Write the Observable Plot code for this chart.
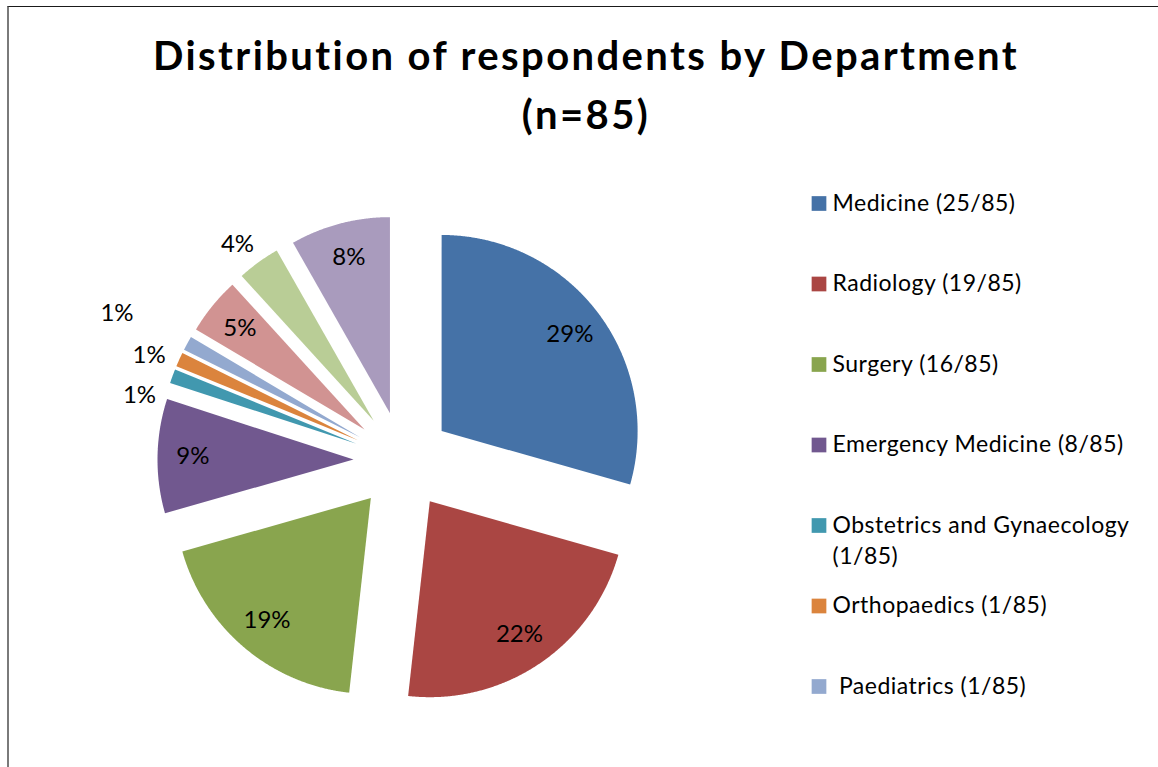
<!DOCTYPE html>
<html>
<head>
<meta charset="utf-8">
<script src="https://cdn.jsdelivr.net/npm/d3@7"></script>
<script src="https://cdn.jsdelivr.net/npm/@observablehq/plot@0.6"></script>
<style>
  body { margin: 0; background: #fff; }
  #wrap { position: relative; width: 1158px; height: 767px; overflow: hidden; background: #fff; }
  #frame { position: absolute; left: 7px; top: 6px; width: 1200px; height: 800px;
           border-left: 2px solid #7a7a7a; border-top: 1.5px solid #1a1a1a; }
  #title { position: absolute; left: 13px; top: 26px; width: 1146px; text-align: center;
           font-family: Lato, "Open Sans", sans-serif; font-weight: bold; font-size: 40px;
           letter-spacing: 2.4px; line-height: 59px; color: #000; }
  #chart { position: absolute; left: 0; top: 0; }
</style>
</head>
<body>
<div id="wrap">
  <div id="frame"></div>
  <div id="title"></div>
  <div id="chart"></div>
</div>
<script>
// ---------- data ----------
const titleLines = ["Distribution of respondents by Department", "(n=85)"];
const departments = [
  "Medicine", "Radiology", "Surgery", "Emergency Medicine",
  "Obstetrics and Gynaecology", "Orthopaedics", "Paediatrics",
  "Other A", "Other B", "Other C"
];
const counts = [25, 19, 16, 8, 1, 1, 1, 4, 3, 7];
const total = 85;
const legendLabels = [
  "Medicine (25/85)", "Radiology (19/85)", "Surgery (16/85)",
  "Emergency Medicine (8/85)", "Obstetrics and Gynaecology\n(1/85)",
  "Orthopaedics (1/85)", "\u00A0Paediatrics (1/85)"
];
const colors = [
  "#4572A7", "#AA4643", "#89A54E", "#71588F", "#4198AF",
  "#DB843D", "#93A9CF", "#D19392", "#B9CD96", "#A99BBD"
];

// ---------- layout ----------
const W = 1158, H = 767;
const cx = 402, cy = 460, R = 196, explode = 49;
const font = "Lato, 'Open Sans', sans-serif";
const labelNudge = { // best-fit label offsets for crowded outside labels
  "Obstetrics and Gynaecology": [-9, 28],
  "Orthopaedics": [-7, 6],
  "Paediatrics": [-48, -18],
  "Other B": [-6, 3]
};
const legendX = 818.5, legendY0 = 203, legendStep = 80.5;

document.getElementById("title").innerHTML = titleLines.join("<br>");

// ---------- geometry ----------
const arcs = d3.pie().sort(null).value(d => d)(counts);
const slicePts = [];
const labels = [];
arcs.forEach((a, i) => {
  const name = departments[i];
  const mid = (a.startAngle + a.endAngle) / 2;
  const tx = cx + explode * Math.sin(mid), ty = cy - explode * Math.cos(mid);
  slicePts.push({name, x: tx, y: ty});
  const steps = Math.max(2, Math.ceil((a.endAngle - a.startAngle) / (Math.PI / 720)));
  for (let k = 0; k <= steps; k++) {
    const t = a.startAngle + (a.endAngle - a.startAngle) * k / steps;
    slicePts.push({name, x: tx + R * Math.sin(t), y: ty - R * Math.cos(t)});
  }
  const frac = counts[i] / total;
  const lr = frac < 0.04 ? 1.13 * R : 0.82 * R;
  const nudge = labelNudge[name] || [0, 0];
  labels.push({
    name,
    text: Math.round(frac * 100) + "%",
    x: tx + lr * Math.sin(mid) + nudge[0],
    y: ty - lr * Math.cos(mid) + nudge[1]
  });
});

const legend = legendLabels.map((label, i) => ({
  name: departments[i], label, x: legendX, y: legendY0 + legendStep * i
}));

const chart = Plot.plot({
  width: W, height: H, margin: 0,
  x: {domain: [0, W], range: [0, W], axis: null},
  y: {domain: [0, H], range: [0, H], axis: null},
  color: {domain: departments, range: colors},
  style: {background: "transparent", overflow: "visible"},
  marks: [
    Plot.line(slicePts, {x: "x", y: "y", z: "name", fill: "name", stroke: "none", curve: "linear"}),
    Plot.text(labels, {x: "x", y: "y", text: "text", fontSize: 24, fontFamily: font,
                       fill: "#000", textAnchor: "middle", lineAnchor: "middle"}),
    Plot.dot(legend, {x: "x", y: "y", fill: "name", symbol: "square", r: 8.3, stroke: "none"}),
    Plot.text(legend, {x: "x", y: "y", text: "label", dx: 13.5, dy: -15.7, fontSize: 23, fontFamily: font,
                       fill: "#000", textAnchor: "start", lineAnchor: "top", lineHeight: 1.39,
                       style: "letter-spacing:0.5px"})
  ]
});
chart.querySelectorAll("text").forEach(t => {
  if (t.textContent.includes("/85")) t.style.letterSpacing = "0.5px";
});
document.getElementById("chart").appendChild(chart);
</script>
</body>
</html>
